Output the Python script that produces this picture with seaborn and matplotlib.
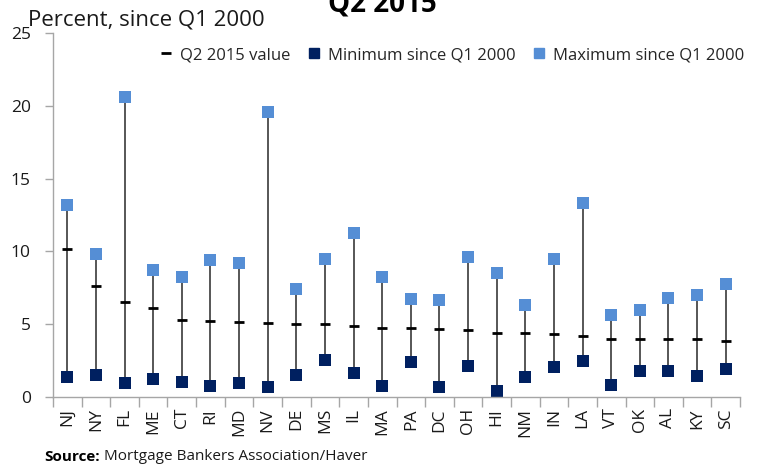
import matplotlib
matplotlib.use('Agg')
import matplotlib.pyplot as plt
import seaborn as sns
import pandas as pd
from matplotlib.lines import Line2D

# Data (percent, since Q1 2000)
states = ['NJ', 'NY', 'FL', 'ME', 'CT', 'RI', 'MD', 'NV', 'DE', 'MS', 'IL', 'MA',
          'PA', 'DC', 'OH', 'HI', 'NM', 'IN', 'LA', 'VT', 'OK', 'AL', 'KY', 'SC']
q2_2015 = [10.17, 7.65, 6.55, 6.13, 5.3, 5.23, 5.17, 5.1, 5.04, 5.04, 4.9, 4.76,
           4.76, 4.68, 4.6, 4.42, 4.42, 4.34, 4.2, 4.0, 4.0, 4.0, 4.0, 3.88]
min_since = [1.38, 1.48, 0.96, 1.24, 1.03, 0.76, 0.97, 0.68, 1.48, 2.54, 1.65, 0.77,
             2.4, 0.69, 2.13, 0.42, 1.38, 2.06, 2.47, 0.82, 1.79, 1.79, 1.44, 1.93]
max_since = [13.18, 9.8, 20.58, 8.7, 8.22, 9.39, 9.18, 19.56, 7.4, 9.46, 11.25, 8.22,
             6.72, 6.64, 9.6, 8.5, 6.3, 9.46, 13.3, 5.62, 5.96, 6.78, 6.98, 7.74]

df = pd.DataFrame({'state': states, 'value': q2_2015,
                   'min': min_since, 'max': max_since})

sns.set_theme(style='white')
plt.rcParams['font.family'] = ['Open Sans', 'DejaVu Sans']

MIN_COL = '#002060'
MAX_COL = '#558ED5'

fig = plt.figure(figsize=(7.59, 4.68), dpi=100)
ax = fig.add_axes([0.0698, 0.1517, 0.9052, 0.7778])

# range lines from minimum to maximum
ax.vlines(df['state'], df['min'], df['max'], color='#3a3a3a', lw=1.2, zorder=1)

sns.scatterplot(data=df, x='state', y='value', marker='_', s=60, color='black',
                linewidth=2.0, ax=ax, zorder=3, legend=False)
sns.scatterplot(data=df, x='state', y='min', marker='s', s=75, color=MIN_COL,
                edgecolor='none', ax=ax, zorder=2, legend=False)
sns.scatterplot(data=df, x='state', y='max', marker='s', s=75, color=MAX_COL,
                edgecolor='none', ax=ax, zorder=2, legend=False)

ax.set_xlim(-0.5, len(states) - 0.5)
ax.set_ylim(0, 25)
ax.set_yticks([0, 5, 10, 15, 20, 25])
ax.set_xlabel('')
ax.set_ylabel('')

for side in ['top', 'right']:
    ax.spines[side].set_visible(False)
for side in ['left', 'bottom']:
    ax.spines[side].set_color('#a6a6a6')
    ax.spines[side].set_linewidth(1.0)

ax.tick_params(axis='y', which='major', left=True, length=6, width=1,
               color='#a6a6a6', labelsize=12.5, pad=10, labelcolor='#1a1a1a')
ax.tick_params(axis='x', which='major', bottom=False, length=0,
               labelsize=12.5, pad=8, labelcolor='#1a1a1a', labelrotation=90)
ax.set_xticks([i - 0.5 for i in range(len(states) + 1)], minor=True)
ax.tick_params(axis='x', which='minor', bottom=True, length=7, width=1,
               color='#a6a6a6')

# texts (title is cut off at the top edge, as in the original)
fig.text(382 / 759, 1 - 12 / 468, 'Q2 2015', ha='center', va='baseline',
         fontsize=20, fontweight='bold', color='black')
fig.text(28 / 759, 1 - 20 / 468, 'Percent, since Q1 2000', ha='left',
         va='center', fontsize=16, color='#1a1a1a')
src = fig.text(44 / 759, 1 - 461 / 468, 'Source:', ha='left', va='baseline',
               fontsize=11, fontweight='bold', color='black')
ax.annotate(' Mortgage Bankers Association/Haver', xy=(1, 0), xycoords=src,
            ha='left', va='bottom', fontsize=11, color='#1a1a1a',
            annotation_clip=False)

handles = [
    Line2D([], [], marker='_', color='black', ls='none', markersize=7,
           markeredgewidth=2),
    Line2D([], [], marker='s', color=MIN_COL, ls='none', markersize=7),
    Line2D([], [], marker='s', color=MAX_COL, ls='none', markersize=7),
]
labels = ['Q2 2015 value', 'Minimum since Q1 2000', 'Maximum since Q1 2000']
fig.legend(handles, labels, loc='center', bbox_to_anchor=(0.596, 1 - 55 / 468),
           ncol=3, frameon=False, fontsize=12, handlelength=0.7,
           handletextpad=0.45, columnspacing=1.1)

fig.savefig('out.png', dpi=100)
